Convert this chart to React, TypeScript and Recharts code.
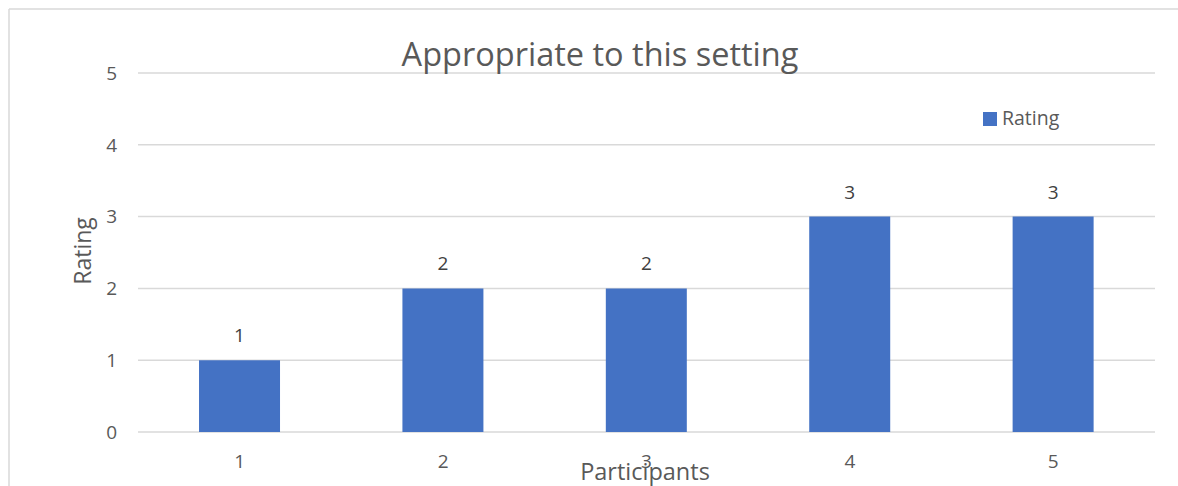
import React from 'react';
import { Bar, BarChart, CartesianGrid, LabelList, XAxis, YAxis } from 'recharts';

const participants = ['1', '2', '3', '4', '5'];
const ratings = [1, 2, 2, 3, 3];
const yTicks = [0, 1, 2, 3, 4, 5];

const FONT = '"Open Sans", sans-serif';
const GREY = '#595959';
const BLUE = '#4472C4';

const data = participants.map((p, i) => ({ participant: p, rating: ratings[i] }));

const App = () => {
  return (
    <div style={{ position: 'relative', width: 1178, height: 486, overflow: 'hidden' }}>
      {/* drop the default body margin so the chart fills the window exactly */}
      <style>{'html, body { margin: 0; overflow: hidden; }'}</style>
      <BarChart
        width={1178}
        height={486}
        data={data}
        margin={{ top: 73, right: 23, left: 18, bottom: 24 }}
        barCategoryGap="30%"
      >
        <CartesianGrid vertical={false} stroke="#d9d9d9" strokeWidth={1.5} />
        <XAxis
          dataKey="participant"
          axisLine={false}
          tickLine={false}
          tickSize={0}
          tickMargin={23}
          height={30}
          tick={{ fill: GREY, fontSize: 19, fontFamily: FONT }}
        />
        <YAxis
          domain={[0, 5]}
          ticks={yTicks}
          axisLine={false}
          tickLine={false}
          tickSize={0}
          tickMargin={21}
          width={120}
          tick={{ fill: GREY, fontSize: 19, fontFamily: FONT }}
        />
        <Bar dataKey="rating" name="Rating" fill={BLUE} isAnimationActive={false}>
          <LabelList
            dataKey="rating"
            position="top"
            offset={18}
            fill="#404040"
            fontSize={19}
            fontFamily={FONT}
          />
        </Bar>
      </BarChart>
      <svg
        width={1178}
        height={486}
        style={{ position: 'absolute', left: 0, top: 0, pointerEvents: 'none' }}
      >
        <line x1={9} y1={9} x2={1178} y2={9} stroke="#d9d9d9" strokeWidth={1.5} />
        <line x1={9} y1={9} x2={9} y2={486} stroke="#d9d9d9" strokeWidth={1.5} />
        <text x={600} y={66} textAnchor="middle" fill={GREY} fontSize={32.5} fontFamily={FONT}>
          Appropriate to this setting
        </text>
        <text
          x={91}
          y={251}
          transform="rotate(-90 91 251)"
          textAnchor="middle"
          fill={GREY}
          fontSize={23}
          fontFamily={FONT}
        >
          Rating
        </text>
        <text x={645} y={480} textAnchor="middle" fill={GREY} fontSize={23.5} fontFamily={FONT}>
          Participants
        </text>
        <rect x={983} y={112} width={14} height={14} fill={BLUE} />
        <text x={1002} y={125} fill={GREY} fontSize={19.5} fontFamily={FONT}>
          Rating
        </text>
      </svg>
    </div>
  );
};

export default App;
